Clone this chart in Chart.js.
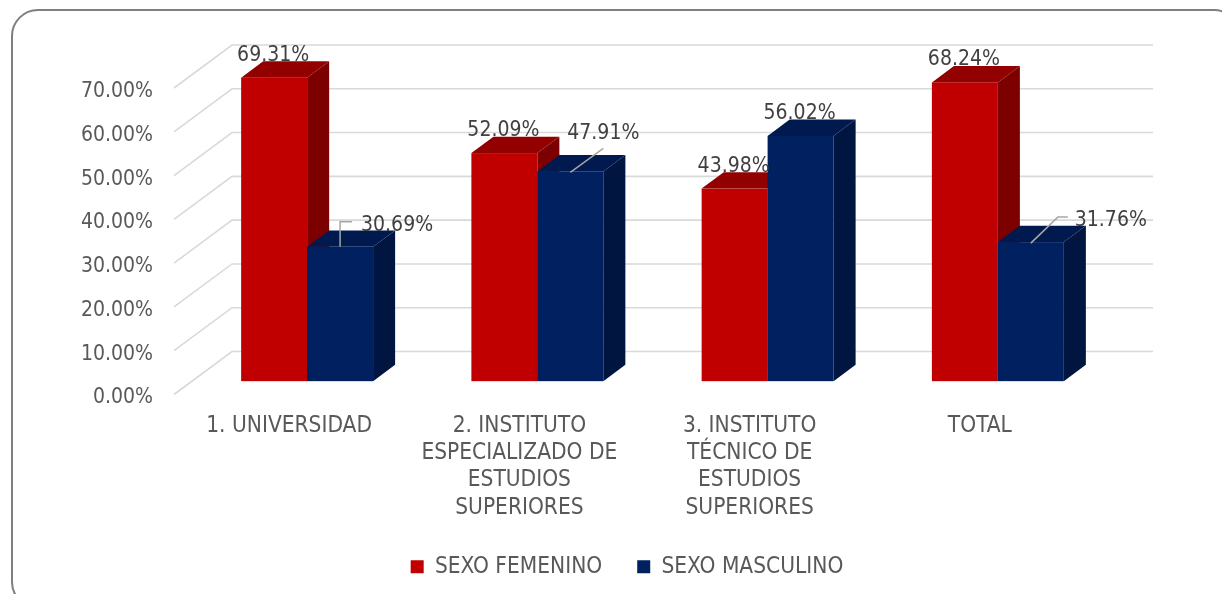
<!DOCTYPE html>
<html>
<head>
<meta charset="utf-8">
<script src="https://cdn.jsdelivr.net/npm/chart.js@4"></script>
<style>
  html, body { margin: 0; padding: 0; background: #fff; overflow: hidden; }
  #wrap { position: relative; width: 1222px; height: 594px; }
  #frame {
    position: absolute; left: 11px; top: 9px; width: 1230px; height: 600px;
    border: 2px solid #7f7f7f; border-radius: 27px; box-sizing: border-box;
  }
  canvas { position: absolute; left: 0; top: 0; }
</style>
</head>
<body>
<div id="wrap">
  <div id="frame"></div>
  <canvas id="chart" width="1222" height="594"></canvas>
</div>
<script>
// data
const categories = [
  "1. UNIVERSIDAD",
  ["2. INSTITUTO", "ESPECIALIZADO DE", "ESTUDIOS", "SUPERIORES"],
  ["3. INSTITUTO", "TÉCNICO DE", "ESTUDIOS", "SUPERIORES"],
  "TOTAL"
];
const seriesNames = ["SEXO FEMENINO", "SEXO MASCULINO"];
const femenino = [69.31, 52.09, 43.98, 68.24];
const masculino = [30.69, 47.91, 56.02, 31.76];
const yTicks = [0, 10, 20, 30, 40, 50, 60, 70];

const FONT = "'DejaVu Sans Condensed', 'DejaVu Sans', sans-serif";

// 3d look
const depth = { dx: 58, dy: -43 };   // floor depth (front edge -> back wall)
const barFront = 0.31, barBack = 0.69;
const faces = [
  { front: '#c00000', top: '#920000', side: '#7d0000' },
  { front: '#002060', top: '#001a50', side: '#00153f' }
];
// labels moved aside with a leader line (offsets from the bar's front top centre)
const leaders = {
  '1-0': { dx: 57, dy: -23, path: [[0, 0], [0, -25], [12, -25]] },
  '1-1': { dx: 33, dy: -39, path: [[0, 1], [33, -23]] },
  '1-3': { dx: 80, dy: -23, path: [[0, 1], [27, -25], [37, -25]] }
};

const pct = v => v.toFixed(2) + '%';

const bars3d = {
  id: 'bars3d',
  beforeDatasetsDraw(chart) {
    const ctx = chart.ctx;
    const { left, right } = chart.chartArea;
    const y = chart.scales.y;
    // walls
    ctx.save();
    ctx.strokeStyle = '#d9d9d9';
    ctx.lineWidth = 1.6;
    yTicks.forEach(t => {
      const py = y.getPixelForValue(t);
      ctx.beginPath();
      ctx.moveTo(left, py);
      ctx.lineTo(left + depth.dx, py + depth.dy);
      ctx.lineTo(right + depth.dx, py + depth.dy);
      ctx.stroke();
    });
    // boxes
    const n = chart.data.labels.length;
    for (let i = 0; i < n; i++) {
      chart.data.datasets.forEach((ds, d) => {
        const el = chart.getDatasetMeta(d).data[i];
        const w = el.width;
        const fx = depth.dx * barFront, fy = depth.dy * barFront;
        const bx = depth.dx * (barBack - barFront), by = depth.dy * (barBack - barFront);
        const x0 = el.x - w / 2 + fx, x1 = el.x + w / 2 + fx;
        const yt = el.y + fy, yb = el.base + fy;
        const c = faces[d];
        ctx.fillStyle = c.side;
        ctx.beginPath();
        ctx.moveTo(x1, yt); ctx.lineTo(x1 + bx, yt + by); ctx.lineTo(x1 + bx, yb + by); ctx.lineTo(x1, yb);
        ctx.closePath(); ctx.fill();
        ctx.fillStyle = c.top;
        ctx.beginPath();
        ctx.moveTo(x0, yt); ctx.lineTo(x0 + bx, yt + by); ctx.lineTo(x1 + bx, yt + by); ctx.lineTo(x1, yt);
        ctx.closePath(); ctx.fill();
        ctx.fillStyle = c.front;
        ctx.fillRect(x0, yt, w, yb - yt);
      });
    }
    ctx.restore();
    return false;
  },
  afterDraw(chart) {
    const ctx = chart.ctx;
    ctx.save();
    ctx.font = '21px ' + FONT;
    ctx.fillStyle = '#404040';
    ctx.textAlign = 'center';
    ctx.textBaseline = 'middle';
    chart.data.datasets.forEach((ds, d) => {
      chart.getDatasetMeta(d).data.forEach((el, i) => {
        const cx = el.x + depth.dx * barFront;
        const cy = el.y + depth.dy * barFront;
        const lead = leaders[d + '-' + i];
        if (lead) {
          ctx.strokeStyle = '#a6a6a6';
          ctx.lineWidth = 1.5;
          ctx.beginPath();
          lead.path.forEach((p, k) => k ? ctx.lineTo(cx + p[0], cy + p[1]) : ctx.moveTo(cx + p[0], cy + p[1]));
          ctx.stroke();
          ctx.fillText(pct(ds.data[i]), cx + lead.dx, cy + lead.dy + 1.5);
        } else {
          ctx.fillText(pct(ds.data[i]), cx - 1, cy - 22.5);
        }
      });
    });
    ctx.restore();
  }
};

new Chart(document.getElementById('chart'), {
  type: 'bar',
  data: {
    labels: categories,
    datasets: [
      { label: seriesNames[0], data: femenino, backgroundColor: faces[0].front },
      { label: seriesNames[1], data: masculino, backgroundColor: faces[1].front }
    ]
  },
  options: {
    responsive: false,
    animation: false,
    clip: false,
    categoryPercentage: 0.573,
    barPercentage: 1,
    layout: { padding: { top: 88, right: 0, bottom: 6, left: 32 } },
    scales: {
      x: {
        grid: { display: false, drawTicks: false },
        border: { display: false },
        ticks: { color: '#595959', padding: 18, maxRotation: 0, font: { family: FONT, size: 22.5, lineHeight: 1.21 } },
        afterFit: s => { s.height = 126; }
      },
      y: {
        min: 0, max: 70,
        grid: { display: false, drawTicks: false },
        border: { display: false },
        ticks: {
          stepSize: 10, color: '#595959', padding: 21, labelOffset: 3.5,
          font: { family: FONT, size: 21 },
          callback: v => pct(v)
        },
        afterFit: s => { s.width = 142; }
      },
      // empty right-hand space where the back wall reaches
      yRight: {
        position: 'right',
        grid: { display: false, drawTicks: false },
        border: { display: false },
        ticks: { display: false },
        afterFit: s => { s.width = 127; }
      }
    },
    plugins: {
      legend: {
        position: 'bottom',
        labels: {
          color: '#595959', boxWidth: 13, boxHeight: 13, padding: 35,
          font: { family: FONT, size: 22.5 }
        }
      },
      tooltip: { enabled: false }
    }
  },
  plugins: [bars3d]
});
</script>
</body>
</html>
